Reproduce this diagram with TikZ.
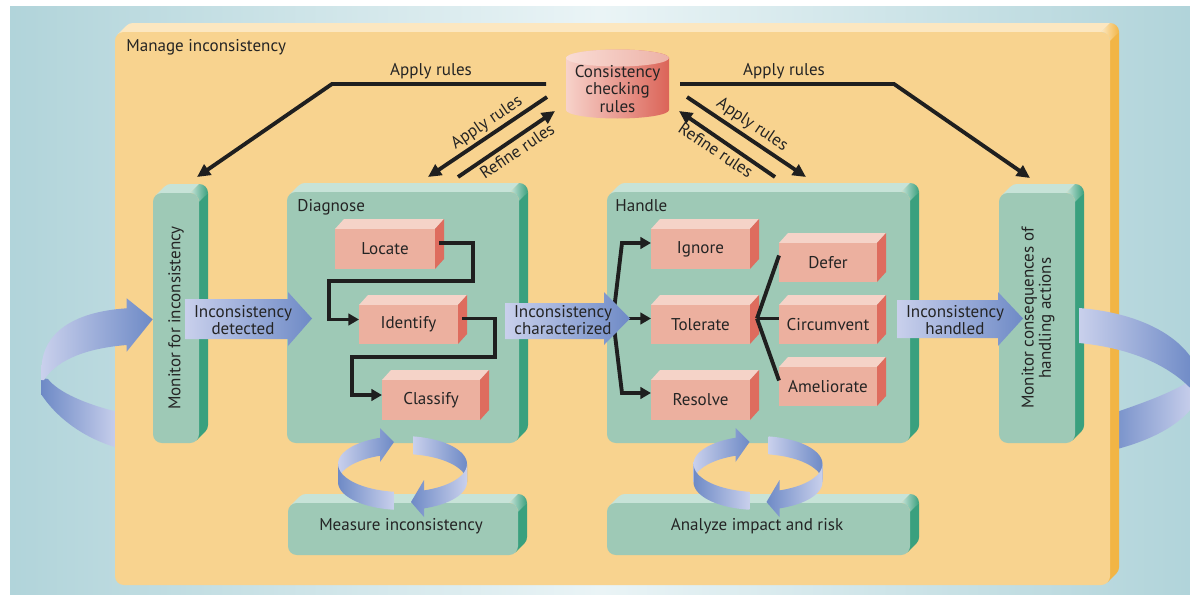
\documentclass[tikz,border=0pt]{standalone}
\usepackage{fontspec}
\setmainfont{PT Sans}
\usetikzlibrary{arrows.meta}

\definecolor{bgside}{HTML}{B1D4DA}
\definecolor{bgmid}{HTML}{EAF4F6}
\definecolor{oface}{HTML}{F8D38F}
\definecolor{otop}{HTML}{FCE7C0}
\definecolor{oside}{HTML}{F2B545}
\definecolor{gface}{HTML}{9EC9B6}
\definecolor{gtop}{HTML}{C7E3D8}
\definecolor{gside}{HTML}{3AA07E}
\definecolor{pface}{HTML}{ECB09F}
\definecolor{ptop}{HTML}{F5D3C8}
\definecolor{pside}{HTML}{DE6C5E}
\definecolor{bdark}{HTML}{6E8AC6}
\definecolor{blight}{HTML}{C9D0EC}
\definecolor{txtc}{HTML}{242424}
\definecolor{cylL}{HTML}{F7D2CA}
\definecolor{cylM}{HTML}{EEB0A4}
\definecolor{cylR}{HTML}{DB6458}
\definecolor{cyltopL}{HTML}{F9DCD5}
\definecolor{cyltopR}{HTML}{EDB2A7}

% extruded rounded panel: front face (#1,#2)-(#3,#4), colour set #5 (face/top/side)
\newcommand\solidbox[5]{%
  \fill[#5top] ({#1+2.6},{#2+2.6}) -- ({#1+11.6},{#2-6.4})
     arc[start angle=225,end angle=270,radius=8.8]
     -- ({#3+0.2},{#2-9}) -- ({#3-8.8},{#2}) -- ({#1+8.8},{#2}) -- cycle;
  \fill[#5side] ({#3-1},{#2+8.8}) -- ({#3+9},{#2-0.2}) -- ({#3+9},{#4-17.8})
     arc[start angle=0,end angle=45,radius=8.8]
     -- ({#3-2.6},{#4-2.6}) -- ({#3-1},{#4-8.8}) -- cycle;
  \shade[left color=#5top, right color=#5side] ({#3-8.8},{#2}) -- ({#3+0.2},{#2-9})
     arc[start angle=270,end angle=360,radius=8.8]
     -- ({#3},{#2+8.8}) arc[start angle=0,end angle=-90,radius=8.8] -- cycle;
  \fill[#5face, rounded corners=5pt] (#1,#2) rectangle (#3,#4);
}

% salmon block: front face (#1,#2)-(#3,#4), node name #5, text #6
\newcommand\pinkbox[6]{%
  \fill[ptop] (#1,#2) -- ({#1+9},{#2-10}) -- ({#3+9},{#2-10}) -- (#3,#2) -- cycle;
  \fill[pside] (#3,#2) -- ({#3+9},{#2-10}) -- ({#3+9},{#4-10}) -- (#3,#4) -- cycle;
  \node[pinkface, minimum width={(#3-#1)*0.02cm}, minimum height={(#4-#2)*0.02cm}]
     (#5) at ({(#1+#3)/2},{(#2+#4)/2}) {#6};
}

\tikzset{
  txt/.style={font=\fontsize{9.7}{9.7}\selectfont, text=txtc, inner sep=0pt},
  pinkface/.style={txt, fill=pface, inner sep=0pt, outer sep=0pt},
  conn/.style={draw=black!88, line width=2.2pt, line join=miter,
               -{Triangle[length=7.5pt,width=7pt]}},
  flow/.style={draw=black!88, line width=2.2pt, line join=miter,
               -{Triangle[length=6pt,width=6.5pt]}},
  branch/.style={draw=black!88, line width=2.2pt},
  cyclering/.pic={
    % back, right half
    \shade[left color=blight, right color=bdark]
      plot[domain=279.4:360, samples=24, variable=\t] ({64.5*cos(\t)},{28*sin(\t)-9})
      -- plot[domain=360:279.4, samples=24, variable=\t] ({64.5*cos(\t)},{28*sin(\t)+9})
      -- cycle;
    % back, left half with head
    \shade[left color=blight, right color=bdark]
      plot[domain=180:249.6, samples=24, variable=\t] ({64.5*cos(\t)},{28*sin(\t)-9})
      -- (-22.5,-45) -- (-8.5,-31) -- (-22.5,-11)
      -- plot[domain=249.6:180, samples=24, variable=\t] ({64.5*cos(\t)},{28*sin(\t)+9})
      -- cycle;
    % front, left
    \shade[left color=bdark, right color=blight]
      plot[domain=97.6:180, samples=24, variable=\t] ({64.5*cos(\t)},{28*sin(\t)-9})
      -- plot[domain=180:97.6, samples=24, variable=\t] ({64.5*cos(\t)},{28*sin(\t)+9})
      -- cycle;
    % front, right with head
    \shade[left color=bdark, right color=blight]
      plot[domain=0:70.5, samples=24, variable=\t] ({64.5*cos(\t)},{28*sin(\t)-9})
      -- (21.5,7) -- (8.5,29) -- (21.5,44)
      -- plot[domain=70.5:0, samples=24, variable=\t] ({64.5*cos(\t)},{28*sin(\t)+9})
      -- cycle;
  }
}

\begin{document}
\begin{tikzpicture}[x=0.02cm, y=-0.02cm]
\useasboundingbox (0,0) rectangle (1190,595);
\clip (0,0) rectangle (1190,595);
\fill[white] (0,0) rectangle (1190,595);
\shade[left color=bgside, right color=bgside, middle color=bgmid] (10,6) rectangle (1190,595);

% outer loop ribbons, parts passing behind the panel
\shade[left color=bdark, right color=blight] (41.7,378) -- (41.7,395)
  .. controls (55,415) and (80,437) .. (118,448) -- (118,412)
  .. controls (85,404) and (58,392) .. (48,379) -- cycle;
\shade[left color=bdark, right color=blight] (1105,416)
  .. controls (1140,404) and (1175,392) .. (1194,378) -- (1194,405)
  .. controls (1180,425) and (1150,442) .. (1105,452) -- cycle;

% main panel
\solidbox{115}{32}{1110}{585}{o}
\node[txt, anchor=base west] (manage) at (126,51.7) {Manage inconsistency};

% rule base cylinder
\shade[left color=cylL, middle color=cylM, right color=cylR]
  (566,58) -- (566,110) arc[start angle=180, end angle=0, x radius=51.5, y radius=8.5]
  -- (669,58) arc[start angle=0, end angle=-180, x radius=51.5, y radius=8.5] -- cycle;
\shade[left color=cyltopL, right color=cyltopR] (617.5,58) ellipse[x radius=51.5, y radius=8.5];
\node[txt, align=center] (rules) at (617.5,89) {Consistency\\checking\\rules};

% rule traffic
\coordinate (lA0) at (546,84); \coordinate (lA1) at (332,84); \coordinate (lA2) at (197,177);
\coordinate (lB0) at (547,97); \coordinate (lB1) at (428,177);
\coordinate (lC0) at (458,177); \coordinate (lC1) at (555,111);
\coordinate (rA0) at (680,84); \coordinate (rA1) at (894,84); \coordinate (rA2) at (1030,178);
\coordinate (rB0) at (687,97); \coordinate (rB1) at (806,177);
\coordinate (rC0) at (775,177); \coordinate (rC1) at (679,111);
\draw[conn] (lA0) -- (lA1) -- (lA2);
\draw[conn] (lB0) -- (lB1);
\draw[conn] (lC0) -- (lC1);
\draw[conn] (rA0) -- (rA1) -- (rA2);
\draw[conn] (rB0) -- (rB1);
\draw[conn] (rC0) -- (rC1);
\node[txt, anchor=base] (applyL) at (431,75) {Apply rules};
\node[txt, anchor=base] (applyR) at (784,75) {Apply rules};
\node[txt, rotate=34] (applyLd) at (487,123) {Apply rules};
\node[txt, rotate=34] (refineLd) at (517,151) {Refine rules};
\node[txt, rotate=-34] (applyRd) at (752,125) {Apply rules};
\node[txt, rotate=-34] (refineRd) at (716,150) {Refine rules};

% activity panels
\solidbox{153}{193}{199}{443}{g}
\solidbox{287}{192}{519}{443}{g}
\solidbox{607}{192}{910}{443}{g}
\solidbox{999}{193}{1075}{443}{g}
\solidbox{288}{503}{518}{555}{g}
\solidbox{607}{503}{910}{555}{g}
\node[txt, rotate=90] (monitor) at (176,318) {Monitor for inconsistency};
\node[txt, rotate=90, align=center] (conseq) at (1038,318) {Monitor consequences of\\handling actions};
\node[txt, anchor=base west] (diagnose) at (297,211.5) {Diagnose};
\node[txt, anchor=base west] (handle) at (615,211.5) {Handle};
\node[txt] (measure) at (401,526) {Measure inconsistency};
\node[txt] (analyze) at (757,526) {Analyze impact and risk};

% outer loop ribbons, front parts
\shade[left color=blight, right color=bdark] (41.7,365)
  .. controls (44,335) and (70,312) .. (126.7,308.3) -- (126.7,298.3) -- (152.7,319.3)
  -- (126.7,351.7) -- (126.7,345) .. controls (90,348) and (58,358) .. (44,380)
  -- (41.7,380) -- cycle;
\shade[left color=blight, right color=bdark] (1079,308)
  .. controls (1130,312) and (1175,330) .. (1194,362) -- (1194,392)
  .. controls (1170,365) and (1130,348) .. (1079,343) -- cycle;

% steps
\pinkbox{335}{229}{435}{269}{locate}{Locate}
\pinkbox{359}{305}{458}{344}{identify}{Identify}
\pinkbox{382}{380}{480}{420}{classify}{Classify}
\pinkbox{651}{229}{750}{269}{ignore}{Ignore}
\pinkbox{651}{305}{750}{344}{tolerate}{Tolerate}
\pinkbox{651}{380}{750}{420}{resolve}{Resolve}
\pinkbox{779}{243}{877}{282}{defer}{Defer}
\pinkbox{779}{305}{877}{344}{circumvent}{Circumvent}
\pinkbox{779}{367}{877}{406}{ameliorate}{Ameliorate}

% diagnose sequence
\draw[flow] ([shift={(4,-6)}]locate.east) -| (473,281) -| ([shift={(-30,-5)}]identify.west)
  -- ([shift={(0,-5)}]identify.west);
\draw[flow] ([shift={(4,-6)}]identify.east) -| (495,357) -| ([shift={(-30,-5)}]classify.west)
  -- ([shift={(0,-5)}]classify.west);

% handling options
\coordinate (hub) at (613,318.5);
\coordinate (hub2) at (757,318.5);
\draw[flow] (hub) -- (622,243) -- ([shift={(0,-6)}]ignore.west);
\draw[flow] (hub) -- ([shift={(0,-6)}]tolerate.west);
\draw[flow] (hub) -- (622,393) -- ([shift={(0,-7)}]resolve.west);
\draw[branch] (hub2) -- ([shift={(0,-7)}]defer.west);
\draw[branch] (hub2) -- ([shift={(0,-6)}]circumvent.west);
\draw[branch] (hub2) -- ([shift={(0,-6)}]ameliorate.west);

% hand-over arrows
\shade[left color=blight, right color=bdark] (185,299) -- (288,299) -- (288,292) -- (312,318.5)
  -- (288,346) -- (288,339) -- (185,339) -- cycle;
\node[txt, align=center] (detected) at (243,320) {Inconsistency\\detected};
\shade[left color=blight, right color=bdark] (505,303) -- (604,303) -- (604,292) -- (630,318.5)
  -- (604,345) -- (604,339) -- (505,339) -- cycle;
\node[txt, align=center] (characterized) at (563,320) {Inconsistency\\characterized};
\shade[left color=blight, right color=bdark] (897,300) -- (998,300) -- (998,292) -- (1023,318.5)
  -- (998,346) -- (998,338) -- (897,338) -- cycle;
\node[txt, align=center] (handled) at (955,320) {Inconsistency\\handled};

% feedback cycles
\pic at (402.5,473) {cyclering};
\pic at (758,473) {cyclering};
\end{tikzpicture}
\end{document}
